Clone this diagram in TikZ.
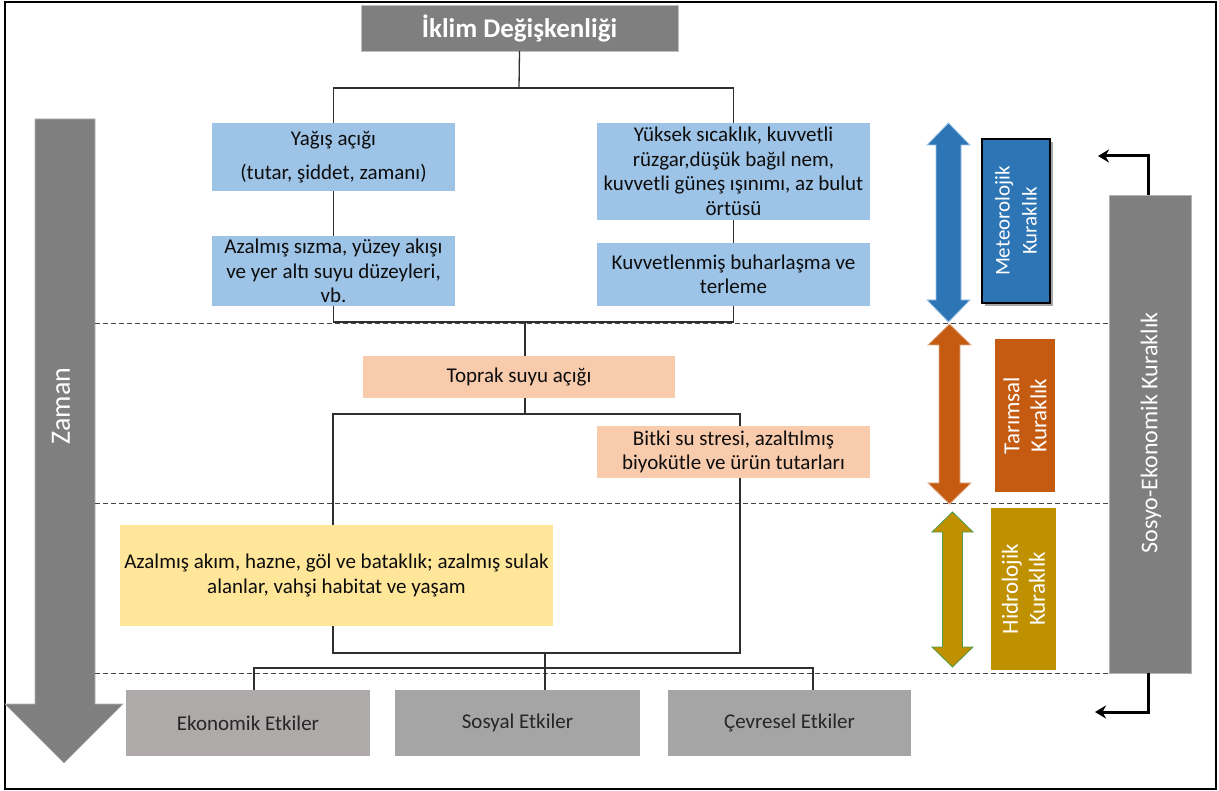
\documentclass[tikz,border=0pt]{standalone}
\usepackage{fontspec}
\setmainfont{Carlito}
\usetikzlibrary{arrows.meta}
\definecolor{tgray}{HTML}{7F7F7F}
\definecolor{lblue}{HTML}{9DC3E6}
\definecolor{peach}{HTML}{F8CBAD}
\definecolor{lyellow}{HTML}{FFE699}
\definecolor{ekgray}{HTML}{AEAAAA}
\definecolor{sgray}{HTML}{A5A5A5}
\definecolor{mblue}{HTML}{2E75B6}
\definecolor{morange}{HTML}{C55A11}
\definecolor{mgold}{HTML}{BF9000}
\definecolor{txt}{HTML}{0D0D0D}
\definecolor{etxt}{HTML}{262626}
\definecolor{conn}{HTML}{2F2F2F}
\definecolor{dashc}{HTML}{454545}
\newcommand{\dblarrow}[8]{%
  \filldraw[fill=#1, draw=#2, line width=0.8pt]
    (#3,#4) -- ({#3+#6},{#4+#8}) -- ({#3+#7},{#4+#8}) -- ({#3+#7},{#5-#8})
    -- ({#3+#6},{#5-#8}) -- (#3,#5) -- ({#3-#6},{#5-#8}) -- ({#3-#7},{#5-#8})
    -- ({#3-#7},{#4+#8}) -- ({#3-#6},{#4+#8}) -- cycle;}
\begin{document}
\begin{tikzpicture}[x=1pt,y=-1pt,
  box/.style={inner sep=0pt, align=center, text=txt, font=\fontsize{21}{24.5}\selectfont},
  bluebox/.style={box, fill=lblue},
  peachbox/.style={box, fill=peach},
  impact/.style={box, text=etxt},
  sidebox/.style={inner sep=0pt, align=center, text=white, rotate=90,
    font=\fontsize{23}{27}\selectfont},
  conline/.style={draw=conn, line width=1.3pt},
  dashline/.style={draw=dashc, line width=1.3pt, dash pattern=on 5pt off 3pt},
  blkarr/.style={draw=black, line width=3pt, -{Stealth[length=11pt,width=13pt]}}
]
\useasboundingbox (0,0) rectangle (1219,791);
\fill[white] (0,0) rectangle (1219,791);
\draw[black, line width=1.8pt] (5,2) rectangle (1216,789);

% time arrow
\filldraw[fill=tgray, draw=tgray!60!white, line width=0.6pt]
  (35,119) -- (95,119) -- (95,704) -- (123,704) -- (64,763) -- (5,704) -- (35,704) -- cycle;
\node[rotate=90, text=white, font=\fontsize{28}{30}\selectfont, inner sep=0pt] (zaman) at (61,406) {Zaman};

% socio-economic box and dashed separators
\node[fill=tgray, draw=tgray!60!white, minimum width=82pt, minimum height=478pt, inner sep=0pt] (sosyo) at (1150,434) {};
\draw[dashline] (95,323.5) -- (sosyo.west |- 0,323.5);
\draw[dashline] (95,503.5) -- (sosyo.west |- 0,503.5);
\draw[dashline] (95,673.5) -- (sosyo.west |- 0,673.5);
\node[rotate=90, text=white, font=\fontsize{24}{26}\selectfont, inner sep=0pt] (sosyolbl) at (1151,433) {Sosyo-Ekonomik Kuraklık};

% title
\node[box, fill=tgray, draw=tgray!50!white, text=white, minimum width=317pt, minimum height=46pt,
  font=\fontsize{27}{30}\selectfont\bfseries] (title) at (519.5,28) {İklim Değişkenliği};

% meteorological boxes
\node[bluebox, minimum width=243pt, minimum height=68pt] (yagis) at (333.5,157)
  {Yağış açığı\\[9pt](tutar, şiddet, zamanı)};
\node[bluebox, minimum width=243pt, minimum height=70pt] (azsiz) at (333.5,271)
  {Azalmış sızma, yüzey akışı\\ve yer altı suyu düzeyleri,\\vb.};
\node[bluebox, minimum width=273pt, minimum height=97pt] (yuksek) at (733.5,171.5)
  {Yüksek sıcaklık, kuvvetli\\rüzgar,düşük bağıl nem,\\kuvvetli güneş ışınımı, az bulut\\örtüsü};
\node[bluebox, minimum width=273pt, minimum height=63pt] (kuvv) at (733.5,274.5)
  {Kuvvetlenmiş buharlaşma ve\\terleme};

% agricultural
\node[peachbox, minimum width=312pt, minimum height=42pt] (toprak) at (519,377) {Toprak suyu açığı};
\node[peachbox, minimum width=273pt, minimum height=52pt] (bitki) at (733.5,452)
  {Bitki su stresi, azaltılmış\\biyokütle ve ürün tutarları};

% hydrological
\node[box, fill=lyellow, minimum width=433pt, minimum height=101pt] (azakim) at (336.5,575.5)
  {Azalmış akım, hazne, göl ve bataklık; azalmış sulak\\alanlar, vahşi habitat ve yaşam};

% impacts
\node[impact, fill=ekgray, minimum width=244pt, minimum height=66pt] (ekon) at (248,723) {Ekonomik Etkiler};
\node[impact, fill=sgray, minimum width=245pt, minimum height=66pt] (sosyal) at (517.5,723) {Sosyal Etkiler};
\node[impact, fill=sgray, minimum width=243pt, minimum height=66pt] (cevre) at (789.5,723) {Çevresel Etkiler};

% connectors
\coordinate (j1) at (519,88);
\draw[conline] (title.south) -- (j1);
\draw[conline] (yagis.north) |- (j1) -| (yuksek.north);
\draw[conline] (yagis.south) -- (azsiz.north);
\draw[conline] (yuksek.south) -- (kuvv.north);
\coordinate (j2) at (525,322);
\draw[conline] (azsiz.south) |- (j2) -| (kuvv.south);
\draw[conline] (j2) -- (j2 |- toprak.north);
\coordinate (j3) at (525,414);
\coordinate (l3) at (333,414);
\coordinate (r3) at (740,414);
\draw[conline] (j3 |- toprak.south) -- (j3);
\draw[conline] (l3 |- azakim.north) -- (l3) -- (r3) -- (r3 |- bitki.north);
\coordinate (j4) at (545,653);
\draw[conline] (l3 |- azakim.south) -- (l3 |- j4) -- (r3 |- j4) -- (r3 |- bitki.south);
\coordinate (j5) at (545,668);
\coordinate (b1) at (254,668);
\coordinate (b3) at (813,668);
\draw[conline] (j4) -- (j5);
\draw[conline] (b1 |- ekon.north) -- (b1) -- (b3) -- (b3 |- cevre.north);
\draw[conline] (j5) -- (j5 |- sosyal.north);

% drought type arrows
\dblarrow{mblue}{lblue}{948.5}{123}{322}{21.5}{12.5}{22}
\dblarrow{morange}{morange!50!white}{949.5}{324}{504}{21.5}{10.5}{21}
\dblarrow{mgold}{green!45!black!70!white}{952.5}{512}{667}{20.5}{10}{20}

% drought type boxes
\fill[black!35] (985,142) rectangle (1053,306);
\node[sidebox, fill=mblue, draw=black, line width=1.3pt, minimum width=164pt, minimum height=68pt,
  font=\fontsize{21}{27}\selectfont] (meteo) at (1016,221) {Meteorolojik\\Kuraklık};
\node[sidebox, fill=morange, minimum width=153pt, minimum height=60pt] (tarim) at (1025,415.5) {Tarımsal\\Kuraklık};
\node[sidebox, fill=mgold, minimum width=162pt, minimum height=65pt] (hidro) at (1023.5,589) {Hidrolojik\\Kuraklık};

% socio-economic feedback arrows
\coordinate (ta) at (1098,156);
\coordinate (ba) at (1095,712);
\draw[blkarr] ([xshift=-2pt]sosyo.north) |- (ta);
\draw[blkarr] ([xshift=-2pt]sosyo.south) |- (ba);
\end{tikzpicture}
\end{document}
